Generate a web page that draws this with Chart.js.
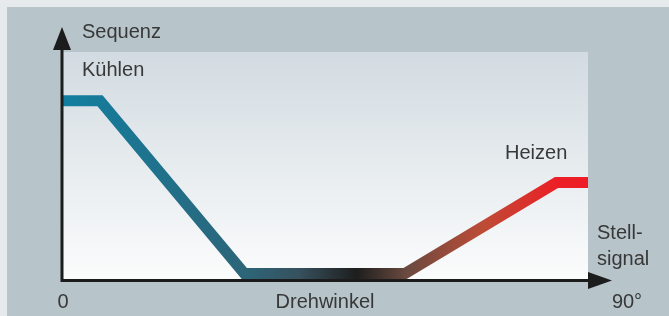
<!DOCTYPE html>
<html>
<head>
<meta charset="utf-8">
<script src="https://cdn.jsdelivr.net/npm/chart.js@4"></script>
<style>
  body { margin: 0; background: #b7c4ca; }
  #box { width: 669px; height: 316px; }
</style>
</head>
<body>
<div id="box"><canvas id="sequenzChart"></canvas></div>
<script>
    // Drehwinkel (0..90°) und Sequenz (0..100 %)
    const winkel = [0, 6.5, 31.2, 58.7, 84.6, 90];
    const sequenz = [78.5, 78.5, 2.4, 2.4, 42.5, 42.5];
    const achsenText = ['0', 'Drehwinkel', '90°'];
    const beschriftungen = ['Sequenz', 'Kühlen', 'Heizen'];

    const hintergrund = {
        id: 'hintergrund',
        beforeDraw(chart) {
            const { ctx, chartArea: a, width, height } = chart;
            ctx.save();
            ctx.fillStyle = '#b7c4ca';
            ctx.fillRect(0, 0, width, height);
            ctx.fillStyle = '#e6eaed';
            ctx.fillRect(0, 0, width, 7);
            ctx.fillRect(0, 0, 7, height);
            const g = ctx.createLinearGradient(0, a.top, 0, a.bottom);
            g.addColorStop(0, '#d2dbe1');
            g.addColorStop(1, '#fbfcfc');
            ctx.fillStyle = g;
            ctx.fillRect(a.left, a.top, a.right - a.left, a.bottom - a.top);
            ctx.restore();
        }
    };

    const achsen = {
        id: 'achsen',
        afterDraw(chart) {
            const { ctx, chartArea: a } = chart;
            const y0 = a.bottom + 1.5;
            ctx.save();
            ctx.strokeStyle = '#1c1c1c';
            ctx.fillStyle = '#1c1c1c';
            ctx.lineWidth = 3;
            ctx.beginPath();
            ctx.moveTo(a.left, a.top - 3);
            ctx.lineTo(a.left, y0 + 1.5);
            ctx.moveTo(a.left - 1.5, y0);
            ctx.lineTo(a.right + 2, y0);
            ctx.stroke();
            // Pfeilspitzen
            ctx.beginPath();
            ctx.moveTo(a.left, a.top - 25);
            ctx.lineTo(a.left + 9, a.top - 2);
            ctx.lineTo(a.left - 9, a.top - 2);
            ctx.closePath();
            ctx.fill();
            ctx.beginPath();
            ctx.moveTo(a.right + 24, y0);
            ctx.lineTo(a.right, y0 - 8.5);
            ctx.lineTo(a.right, y0 + 8.5);
            ctx.closePath();
            ctx.fill();

            ctx.fillStyle = '#383838';
            ctx.font = '20px "Liberation Sans", Arial, sans-serif';
            ctx.textBaseline = 'alphabetic';
            ctx.textAlign = 'left';
            ctx.fillText(beschriftungen[0], a.left + 20, 38);
            ctx.fillText(beschriftungen[1], a.left + 20, 76);
            ctx.fillText(beschriftungen[2], 505, 159);
            ctx.fillText('Stell-', a.right + 9, 239);
            ctx.fillText('signal', a.right + 9, 265);
            ctx.textAlign = 'center';
            ctx.fillText(achsenText[0], a.left + 1, 308);
            ctx.fillText(achsenText[1], 325, 308);
            ctx.fillText(achsenText[2], a.right + 39, 308);
            ctx.restore();
        }
    };

    function linienFarbe(context) {
        const a = context.chart.chartArea;
        if (!a) return '#117ea0';
        const g = context.chart.ctx.createLinearGradient(a.left, 0, a.right, 0);
        g.addColorStop(0, '#117fa1');
        g.addColorStop(0.35, '#2d6578');
        g.addColorStop(0.45, '#37515e');
        g.addColorStop(0.56, '#1e1e1e');
        g.addColorStop(0.655, '#6a4a40');
        g.addColorStop(0.8, '#bd4c36');
        g.addColorStop(0.94, '#ec1f26');
        g.addColorStop(1, '#ee1c25');
        return g;
    }

    new Chart(document.getElementById('sequenzChart'), {
        type: 'line',
        data: {
            datasets: [{
                data: winkel.map((w, i) => ({ x: w, y: sequenz[i] })),
                borderColor: linienFarbe,
                borderWidth: 11,
                borderJoinStyle: 'miter',
                borderCapStyle: 'butt',
                pointRadius: 0,
                tension: 0,
                fill: false
            }]
        },
        options: {
            responsive: true,
            maintainAspectRatio: false,
            animation: false,
            layout: { padding: { left: 62, right: 81, top: 52, bottom: 37 } },
            plugins: { legend: { display: false }, tooltip: { enabled: false } },
            scales: {
                x: { type: 'linear', min: 0, max: 90, display: false },
                y: { min: 0, max: 100, display: false }
            }
        },
        plugins: [hintergrund, achsen]
    });
</script>
</body>
</html>
